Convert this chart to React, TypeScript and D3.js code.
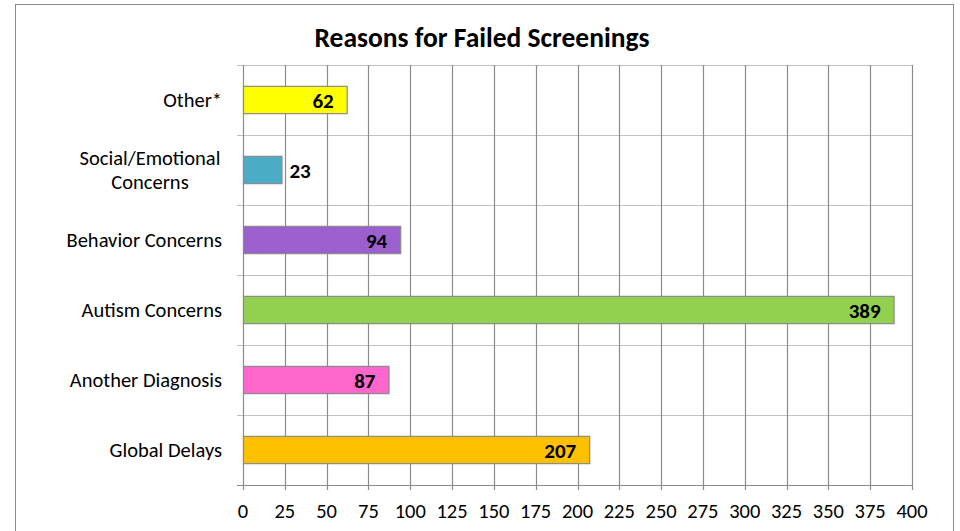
import React, { useEffect, useRef } from "react";
import * as d3 from "d3";

const categories = [
  "Other*",
  "Social/Emotional\nConcerns",
  "Behavior Concerns",
  "Autism Concerns",
  "Another Diagnosis",
  "Global Delays",
];
const counts = [62, 23, 94, 389, 87, 207];
const barColors = ["#FFFF00", "#4BACC6", "#9B5FCE", "#92D050", "#FF66CC", "#FFC000"];
const xTicks = d3.range(0, 401, 25);

const width = 960;
const height = 531;
const margin = { top: 65, right: 48, bottom: 46, left: 243 };
const font = "Carlito, Lato, 'Open Sans', sans-serif";

export default function App() {
  const svgRef = useRef<SVGSVGElement>(null);

  useEffect(() => {
    const svg = d3.select(svgRef.current);
    svg.selectAll("*").remove();

    const x = d3
      .scaleLinear()
      .domain([0, 400])
      .range([margin.left, width - margin.right]);
    const y = d3
      .scaleBand()
      .domain(categories)
      .range([margin.top, height - margin.bottom])
      .paddingInner(0.61)
      .paddingOuter(0.305);
    const band = (height - margin.top - margin.bottom) / categories.length;

    // outer frame
    svg
      .append("rect")
      .attr("x", 15.5)
      .attr("y", 4.5)
      .attr("width", 938)
      .attr("height", 540)
      .attr("fill", "#fff")
      .attr("stroke", "#8a8a8a")
      .attr("stroke-width", 1);

    // title
    svg
      .append("text")
      .attr("x", 482)
      .attr("y", 47)
      .attr("text-anchor", "middle")
      .attr("font-family", font)
      .attr("font-weight", 700)
      .attr("font-size", "27.5px")
      .attr("fill", "#000")
      .text("Reasons for Failed Screenings");

    // horizontal gridlines at category boundaries
    const hLines = d3.range(categories.length + 1).map((i) => margin.top + i * band);
    svg
      .append("g")
      .selectAll("line")
      .data(hLines)
      .join("line")
      .attr("x1", margin.left - 6)
      .attr("x2", width - margin.right)
      .attr("y1", (d) => Math.round(d) + 0.5)
      .attr("y2", (d) => Math.round(d) + 0.5)
      .attr("stroke", "#c0c0c0")
      .attr("stroke-width", 1.2);

    // vertical gridlines
    svg
      .append("g")
      .selectAll("line")
      .data(xTicks)
      .join("line")
      .attr("x1", (d) => Math.round(x(d)) + 0.5)
      .attr("x2", (d) => Math.round(x(d)) + 0.5)
      .attr("y1", margin.top)
      .attr("y2", height - margin.bottom + 5)
      .attr("stroke", "#8c8c8c")
      .attr("stroke-width", 1.2);

    // bottom axis line
    svg
      .append("line")
      .attr("x1", margin.left - 6)
      .attr("x2", width - margin.right)
      .attr("y1", height - margin.bottom + 0.5)
      .attr("y2", height - margin.bottom + 0.5)
      .attr("stroke", "#8c8c8c")
      .attr("stroke-width", 1.2);

    // x tick labels
    svg
      .append("g")
      .selectAll("text")
      .data(xTicks)
      .join("text")
      .attr("x", (d) => x(d))
      .attr("y", 518)
      .attr("text-anchor", "middle")
      .attr("font-family", font)
      .attr("font-size", "20.5px")
      .attr("fill", "#000")
      .text((d) => d);

    // bars
    svg
      .append("g")
      .selectAll("rect")
      .data(counts)
      .join("rect")
      .attr("x", x(0) + 0.5)
      .attr("y", (d, i) => y(categories[i])!)
      .attr("width", (d) => x(d) - x(0))
      .attr("height", y.bandwidth())
      .attr("fill", (d, i) => barColors[i])
      .attr("stroke", "#8a8a8a")
      .attr("stroke-width", 1.2);

    // value labels
    svg
      .append("g")
      .selectAll("text")
      .data(counts)
      .join("text")
      .attr("x", (d) => (d < 40 ? x(d) + 8 : x(d) - 13))
      .attr("y", (d, i) => y(categories[i])! + y.bandwidth() / 2)
      .attr("dy", "0.36em")
      .attr("text-anchor", (d) => (d < 40 ? "start" : "end"))
      .attr("font-family", font)
      .attr("font-weight", 700)
      .attr("font-size", "21px")
      .attr("fill", "#000")
      .text((d) => d);

    // category labels
    const labels = svg
      .append("g")
      .selectAll("text")
      .data(categories)
      .join("text")
      .attr("font-family", font)
      .attr("font-size", "20.5px")
      .attr("fill", "#000")
      .attr("text-anchor", (d) => (d.includes("\n") ? "middle" : "end"))
      .attr("x", (d) => (d.includes("\n") ? 150 : 222))
      .attr("y", (d) => y(d)! + y.bandwidth() / 2);

    labels.each(function (d) {
      const lines = d.split("\n");
      const el = d3.select(this);
      lines.forEach((line, j) => {
        el.append("tspan")
          .attr("x", d.includes("\n") ? 150 : 222)
          .attr("dy", j === 0 ? `${0.36 - (lines.length - 1) * 0.58}em` : "1.16em")
          .text(line);
      });
    });
  }, []);

  return (
    <svg
      ref={svgRef}
      width={width}
      height={height}
      style={{ position: "absolute", left: 0, top: 0, display: "block", background: "#fff" }}
    />
  );
}
